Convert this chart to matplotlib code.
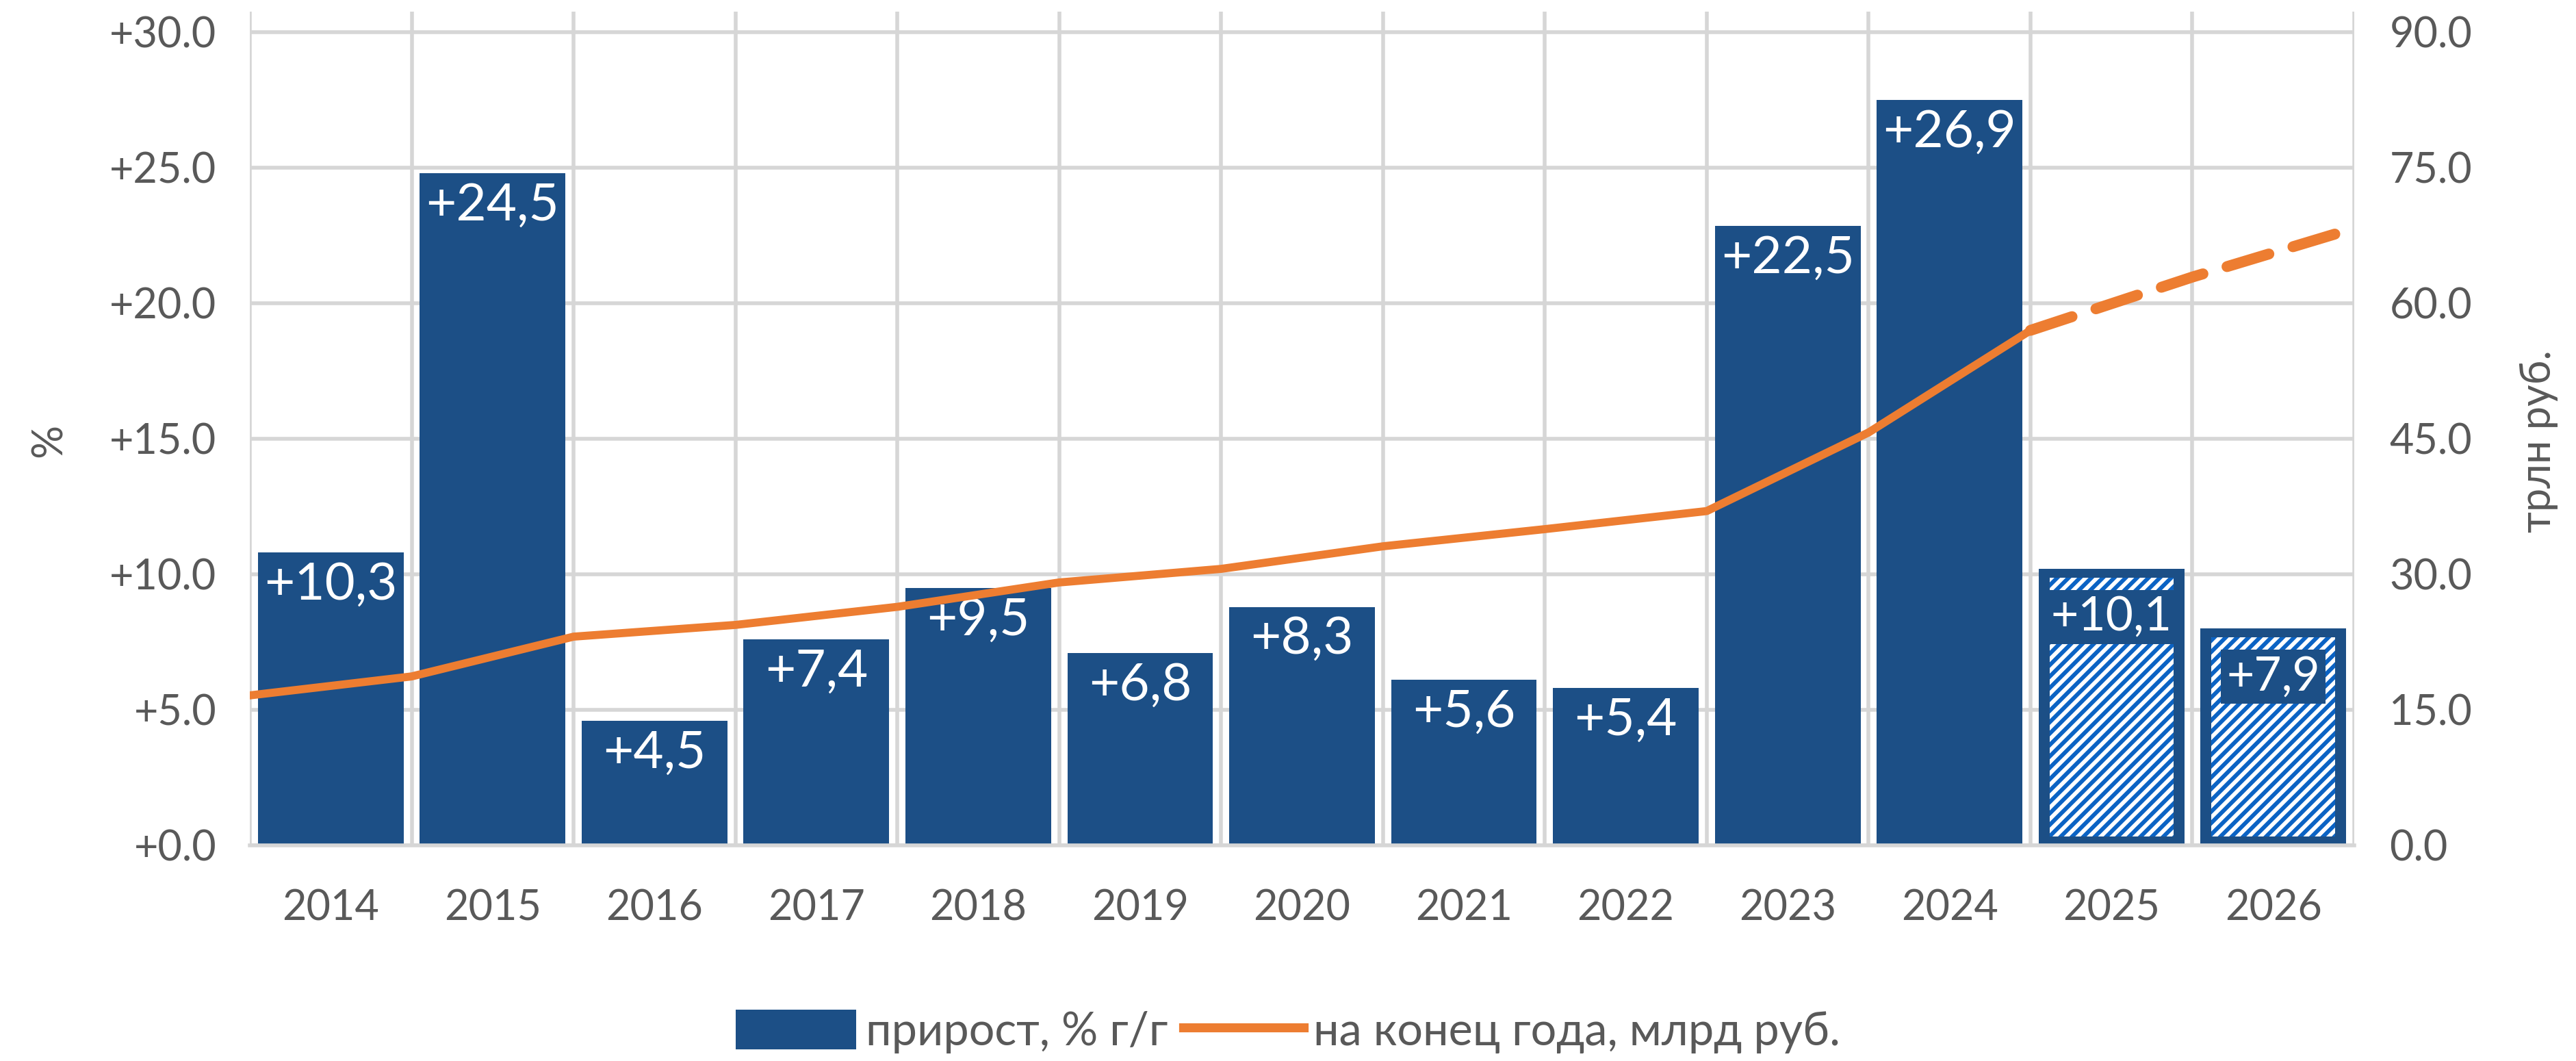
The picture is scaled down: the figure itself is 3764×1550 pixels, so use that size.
import matplotlib
matplotlib.use("Agg")
import matplotlib.pyplot as plt
from matplotlib.patches import Patch
from matplotlib.lines import Line2D
import numpy as np

# ---------------- data ----------------
years = ["2014", "2015", "2016", "2017", "2018", "2019", "2020",
         "2021", "2022", "2023", "2024", "2025", "2026"]
growth_pct = [10.8, 24.8, 4.6, 7.6, 9.5, 7.1, 8.8, 6.1, 5.8, 22.85, 27.5, 10.2, 8.0]
growth_labels = ["+10,3", "+24,5", "+4,5", "+7,4", "+9,5", "+6,8", "+8,3",
                 "+5,6", "+5,4", "+22,5", "+26,9", "+10,1", "+7,9"]
is_forecast = [False] * 11 + [True, True]
# year-end stock, trln rub (points sit on the category boundaries)
stock_trln = [16.6, 18.7, 23.1, 24.4, 26.4, 29.1, 30.6, 33.1, 35.0, 37.0,
              45.7, 57.0, 62.9, 68.3]
first_forecast_point = 11

left_ticks = [0, 5, 10, 15, 20, 25, 30]
right_ticks = [0, 15, 30, 45, 60, 75, 90]

legend_labels = ["прирост, % г/г", "на конец года, млрд руб."]
ylabel_left = "%"
ylabel_right = "трлн руб."

# ---------------- style ----------------
BLUE = "#1C4F86"
HATCH_BLUE = "#0B63C4"
ORANGE = "#ED7D31"
GRID = "#D6D6D6"
TXT = "#595959"
FONT = ["Lato", "DejaVu Sans"]

plt.rcParams["font.family"] = FONT
plt.rcParams["hatch.linewidth"] = 4.3

W, H = 3764, 1550
fig = plt.figure(figsize=(W / 100, H / 100), dpi=100)
px_x0, px_x1, px_y0, px_ytop = 365, 3440, 1235, 17
ax = fig.add_axes([px_x0 / W, 1 - px_y0 / H, (px_x1 - px_x0) / W, (px_y0 - px_ytop) / H])

n = len(years)
x = np.arange(n)
ymax = 30 + (47 - px_ytop) / ((px_y0 - 47) / 30)
ax.set_xlim(-0.5, n - 0.5)
ax.set_ylim(0, ymax)

# grid
ax.set_axisbelow(True)
ax.set_yticks(left_ticks)
ax.set_yticklabels([f"+{v:.1f}" for v in left_ticks])
ax.set_xticks(x)
ax.set_xticklabels(years)
ax.set_xticks(np.arange(n + 1) - 0.5, minor=True)
ax.grid(axis="y", which="major", color=GRID, lw=4)
ax.grid(axis="x", which="minor", color=GRID, lw=4)
ax.tick_params(axis="both", which="both", length=0)
ax.tick_params(axis="y", labelsize=44, labelcolor=TXT, pad=35)
ax.tick_params(axis="x", labelsize=44, labelcolor=TXT, pad=46)
for s in ax.spines.values():
    s.set_visible(False)
ax.spines["bottom"].set_visible(True)
ax.spines["bottom"].set_color(GRID)
ax.spines["bottom"].set_linewidth(4)

bar_w = 0.9
inset_x = 0.068
inset_y = 0.33
for i in range(n):
    h = growth_pct[i]
    ax.bar(x[i], h, width=bar_w, color=BLUE, zorder=2, linewidth=0)
    if is_forecast[i]:
        ax.bar(x[i], h - 2 * inset_y, bottom=inset_y, width=bar_w - 2 * inset_x,
               facecolor="white", edgecolor=HATCH_BLUE, hatch="//", linewidth=0, zorder=3)
        ax.annotate(growth_labels[i], (x[i], h), xytext=(0, -28), textcoords="offset points",
                    ha="center", va="top", color="white", fontsize=50, zorder=5,
                    bbox=dict(boxstyle="square,pad=0.12", fc=BLUE, ec="none"))
    else:
        ax.annotate(growth_labels[i], (x[i], h), xytext=(0, -9), textcoords="offset points",
                    ha="center", va="top", color="white", fontsize=55, zorder=5)

# secondary axis with line
ax2 = ax.twinx()
ax2.set_ylim(0, ymax * 3)
ax2.set_yticks(right_ticks)
ax2.set_yticklabels([f"{v:.1f}" for v in right_ticks])
ax2.tick_params(axis="y", length=0, labelsize=44, labelcolor=TXT, pad=37)
for s in ax2.spines.values():
    s.set_visible(False)
xl = np.arange(len(stock_trln)) - 0.5
k = first_forecast_point
ax2.plot(xl[:k + 1], stock_trln[:k + 1], color=ORANGE, lw=8.5,
         solid_capstyle="round", solid_joinstyle="round", zorder=6)
ax2.plot(xl[k:], stock_trln[k:], color=ORANGE, lw=11.5, linestyle=(0, (4.0, 2.3)),
         dash_capstyle="round", zorder=6)

# axis titles
fig.text(72 / W, 1 - 643 / H, ylabel_left, rotation=90, ha="center", va="center",
         fontsize=44, color=TXT)
fig.text(3709 / W, 1 - 645 / H, ylabel_right, rotation=90, ha="center", va="center",
         fontsize=44, color=TXT)

# legend
handles = [Patch(facecolor=BLUE, edgecolor="none"),
           Line2D([0], [0], color=ORANGE, lw=9.5)]
fig.legend(handles, legend_labels, loc="center", bbox_to_anchor=(1882 / W, 1 - 1507 / H),
           ncol=2, frameon=False, fontsize=48, labelcolor=TXT,
           handlelength=2.64, handleheight=0.97, handletextpad=0.2, columnspacing=0.35)

fig.savefig("out.png", dpi=100)
